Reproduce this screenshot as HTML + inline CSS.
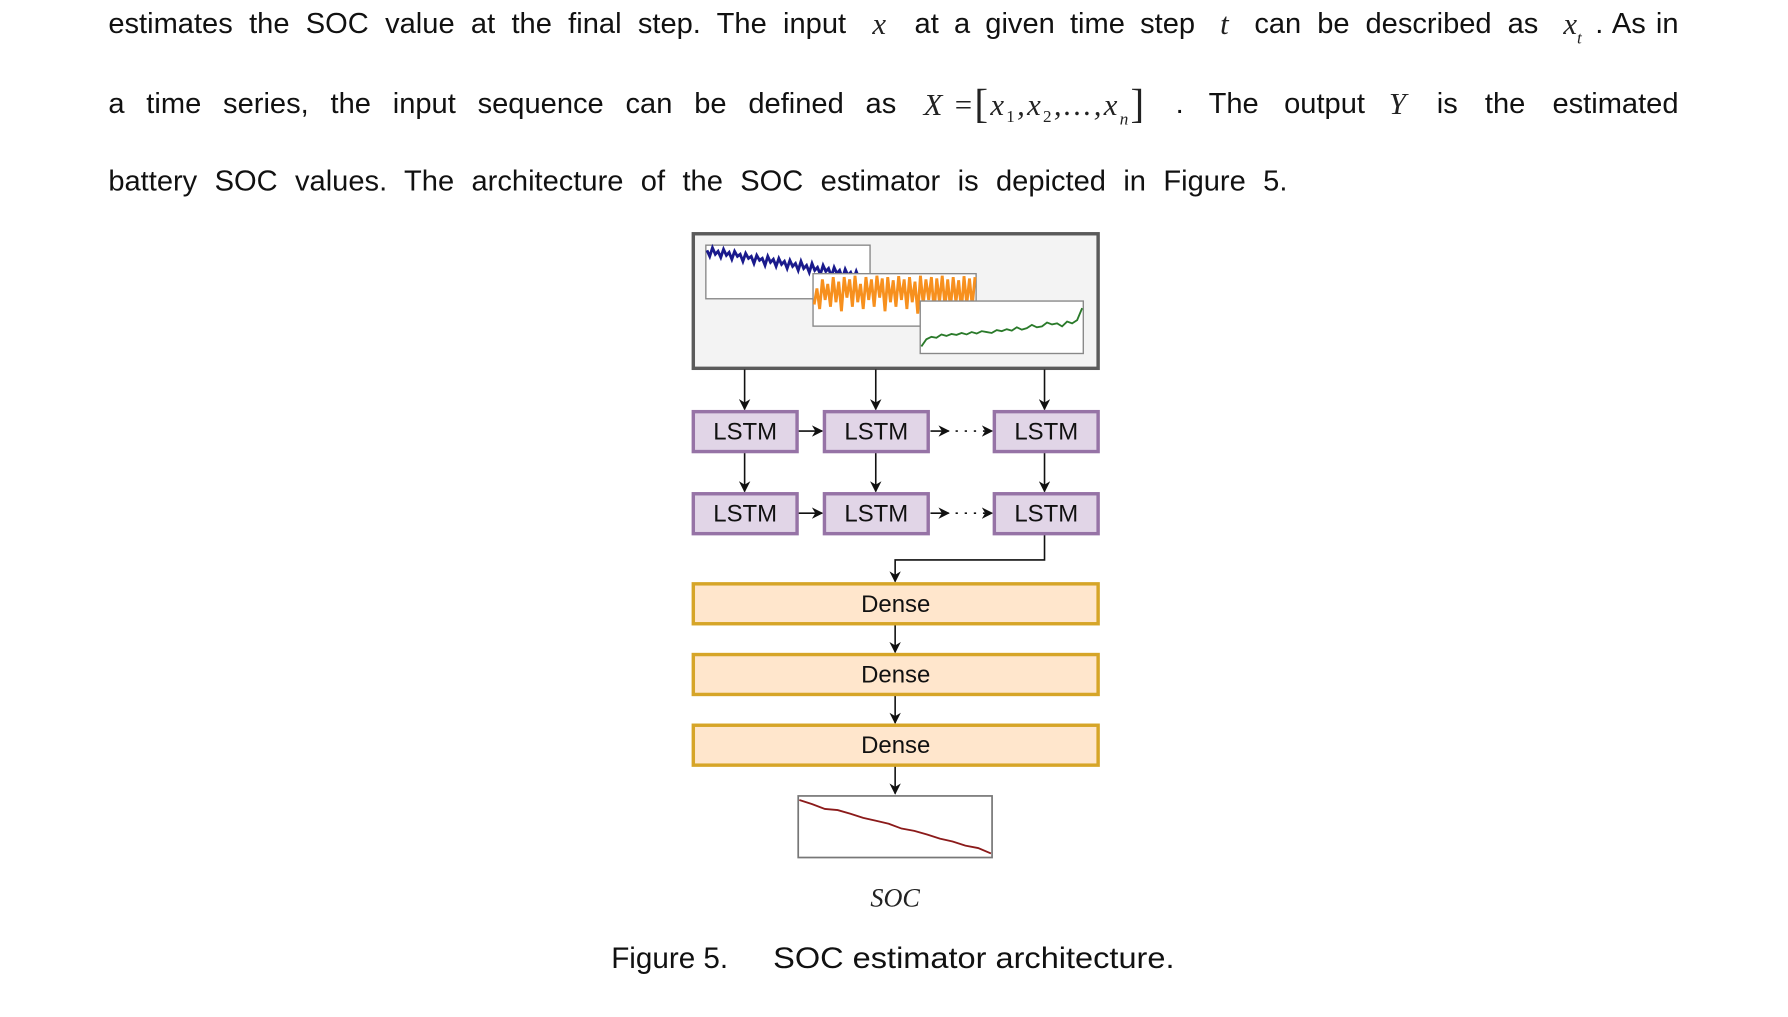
<!DOCTYPE html>
<html><head><meta charset="utf-8">
<style>
html,body{margin:0;padding:0;background:#fff;}
body{width:1788px;height:1017px;overflow:hidden;position:relative;}
#wrap{position:absolute;left:0;top:0;width:1568px;height:892px;transform:scale(1.14031);transform-origin:0 0;}
.seg{position:absolute;font-family:"Liberation Sans",sans-serif;font-size:25.5px;color:#111;white-space:nowrap;text-align:justify;text-align-last:justify;line-height:30px;}
.m{position:absolute;font-family:"Liberation Serif",serif;font-style:italic;font-size:27px;color:#222;line-height:30px;white-space:nowrap;}
.sub{font-size:15px;vertical-align:-6px;font-style:normal;}
.subi{font-size:15px;vertical-align:-8px;}
#diag{position:absolute;left:0;top:0;}
.lbl{font-family:"Liberation Sans",sans-serif;font-size:21px;fill:#111;}
</style></head>
<body>
<div id="wrap">
  <div class="seg" style="left:95px;top:6px;width:647px;">estimates the SOC value at the final step. The input</div>
  <div class="m" style="left:765px;top:6px;">x</div>
  <div class="seg" style="left:802px;top:6px;width:246px;">at a given time step</div>
  <div class="m" style="left:1070px;top:6px;">t</div>
  <div class="seg" style="left:1100px;top:6px;width:249px;">can be described as</div>
  <div class="m" style="left:1371px;top:6px;">x<span class="subi">t</span></div>
  <div class="seg" style="left:1399px;top:6px;width:73px;">. As in</div>
  <div class="seg" style="left:95px;top:76px;width:691px;">a time series, the input sequence can be defined as</div>
  <div class="m" style="left:810px;top:76px;letter-spacing:2px;">X<span style="font-style:normal"> =</span><span style="font-style:normal;font-size:36px;vertical-align:-2px">[</span>x<span class="sub">1</span>,x<span class="sub">2</span>,...,x<span class="subi">n</span><span style="font-style:normal;font-size:36px;vertical-align:-2px">]</span></div>
  <div class="seg" style="left:1031px;top:76px;width:166px;">. The output</div>
  <div class="m" style="left:1218px;top:76px;">Y</div>
  <div class="seg" style="left:1260px;top:76px;width:212px;">is the estimated</div>
  <div class="seg" style="left:95px;top:144px;width:1034px;">battery SOC values. The architecture of the SOC estimator is depicted in Figure 5.</div>

  <svg id="diag" width="1568" height="892" viewBox="0 0 1568 892">
    <defs>
      <marker id="ah" markerWidth="10" markerHeight="10" refX="9" refY="5" orient="auto" markerUnits="userSpaceOnUse">
        <path d="M0,0 L10,5 L0,10 L3,5 z" fill="#111"/>
      </marker>
    </defs>
    <rect x="608" y="205" width="355" height="118" fill="#f3f3f3" stroke="#5a5a5a" stroke-width="3"/>
    <rect x="619" y="215" width="144" height="47" fill="#fff" stroke="#888" stroke-width="1.2"/>
    <g id="blueG"></g>
    <rect x="713" y="240" width="143" height="46" fill="#fff" stroke="#888" stroke-width="1.2"/>
    <g id="orangeG"></g>
    <rect x="807" y="264" width="143" height="46" fill="#fff" stroke="#888" stroke-width="1.2"/>
    <g id="greenG"></g>
    <g id="arrows" stroke="#111" stroke-width="1.4" fill="none"></g>
    <g id="boxes"></g>
    <rect x="700" y="698" width="170" height="54" fill="#fff" stroke="#777" stroke-width="1.5"/>
    <g id="redG"></g>
    <text x="785" y="795" text-anchor="middle" font-family="Liberation Serif,serif" font-style="italic" font-size="23" fill="#222">SOC</text>
    <text x="536" y="849" font-family="Liberation Sans,sans-serif" font-size="26" fill="#111">Figure 5.</text>
    <text x="678" y="849" font-family="Liberation Sans,sans-serif" font-size="26" fill="#111" textLength="352" lengthAdjust="spacingAndGlyphs">SOC estimator architecture.</text>
  </svg>
</div>
<script>
const blueValues = [0.92,0.8,0.97,0.84,0.9,0.78,0.94,0.82,0.88,0.74,0.9,0.8,0.84,0.7,0.86,0.76,0.8,0.66,0.82,0.72,0.76,0.62,0.8,0.68,0.74,0.6,0.76,0.64,0.7,0.56,0.72,0.6,0.66,0.52,0.7,0.56,0.62,0.48,0.66,0.52,0.58,0.44,0.62,0.5,0.56,0.4,0.58,0.46,0.52,0.36,0.54,0.42,0.48,0.34,0.5,0.36,0.4,0.25,0.2,0.12];
const orangeValues = [0.35,0.7,0.25,0.9,0.45,0.8,0.3,0.95,0.4,0.85,0.2,0.95,0.5,0.9,0.3,0.98,0.4,0.8,0.25,0.95,0.45,0.9,0.3,0.98,0.5,0.92,0.2,0.95,0.4,0.88,0.3,0.97,0.45,0.9,0.25,0.95,0.4,0.85,0.15,0.98,0.35,0.9,0.45,0.95,0.2,0.92,0.4,0.98,0.3,0.9,0.25,0.95,0.4,0.88,0.2,0.97,0.35,0.92,0.3,0.95];
const greenValues = [0.1,0.25,0.3,0.28,0.35,0.32,0.36,0.34,0.38,0.35,0.4,0.37,0.42,0.4,0.38,0.44,0.42,0.46,0.43,0.5,0.45,0.48,0.55,0.5,0.52,0.6,0.56,0.58,0.52,0.62,0.58,0.65,0.9];
const socValues = [0.95,0.88,0.8,0.78,0.72,0.65,0.6,0.55,0.47,0.43,0.37,0.3,0.25,0.18,0.14,0.05];

function drawSeries(gid, vals, x0, y0, w, h, color, sw, name){
  const g = document.getElementById(gid);
  const pts = vals.map((v,i)=>{
    const x = x0 + i*(w/(vals.length-1));
    const y = y0 + (1-v)*h;
    return x.toFixed(1)+','+y.toFixed(1);
  }).join(' ');
  const pl = document.createElementNS('http://www.w3.org/2000/svg','polyline');
  pl.setAttribute('points', pts);
  pl.setAttribute('fill','none');
  pl.setAttribute('stroke',color);
  pl.setAttribute('stroke-width',sw);
  
  
  g.appendChild(pl);
}
drawSeries('blueG', blueValues, 620, 216, 143, 44, '#1a1a8c', 2.5, 'blue-series-line');
drawSeries('orangeG', orangeValues, 714, 241, 141, 40, '#f7901e', 2.5, 'orange-series-line');
drawSeries('greenG', greenValues, 808, 266, 141, 42, '#2a7a2a', 1.6, 'green-series-line');
drawSeries('redG', socValues, 701, 699, 168, 52, '#8b1a1a', 1.6, 'soc-series-line');

const NS='http://www.w3.org/2000/svg';
const boxesG=document.getElementById('boxes');
function box(x,y,w,h,fill,stroke,label,name){
  const r=document.createElementNS(NS,'rect');
  r.setAttribute('x',x);r.setAttribute('y',y);r.setAttribute('width',w);r.setAttribute('height',h);
  r.setAttribute('fill',fill);r.setAttribute('stroke',stroke);r.setAttribute('stroke-width',3);
  
  
  boxesG.appendChild(r);
  const t=document.createElementNS(NS,'text');
  t.setAttribute('x',x+w/2);t.setAttribute('y',y+h/2+7);t.setAttribute('text-anchor','middle');
  t.setAttribute('class','lbl');t.textContent=label;
  
  
  boxesG.appendChild(t);
}
const cols=[[608,91],[723,91],[872,91]];
[361,433].forEach((y,ri)=>cols.forEach((c,ci)=>box(c[0],y,c[1],35,'#e1d5e7','#9673a6','LSTM','lstm-r'+(ri+1)+'-c'+(ci+1))));
[512,574,636].forEach((y,i)=>box(608,y,355,35,'#ffe6cc','#d6a528','Dense','dense-layer-'+(i+1)));

const ag=document.getElementById('arrows');
function line(d,dash,name){
  const p=document.createElementNS(NS,'path');
  p.setAttribute('d',d);p.setAttribute('marker-end','url(#ah)');
  if(dash)p.setAttribute('stroke-dasharray','2 6');
  
  
  ag.appendChild(p);
}
[653,768,916].forEach((x,i)=>{
  line(`M${x},324 L${x},359`,false,'input-arrow-'+(i+1));
  line(`M${x},397 L${x},431`,false,'layer-arrow-'+(i+1));
});
[378,450].forEach((y,i)=>{
  line(`M700,${y} L721,${y}`,false,'seq-arrow-'+(i+1));
  line(`M816,${y} L832,${y}`,false,'seq-start-arrow-'+(i+1));
  line(`M838,${y} L870,${y}`,true,'seq-dots-'+(i+1));
});
line('M916,469 L916,491 L785,491 L785,510',false,'lstm-to-dense-arrow');
line('M785,548 L785,572',false,'dense-arrow-1');
line('M785,610 L785,634',false,'dense-arrow-2');
line('M785,672 L785,696',false,'dense-to-output-arrow');
</script>
</body></html>
